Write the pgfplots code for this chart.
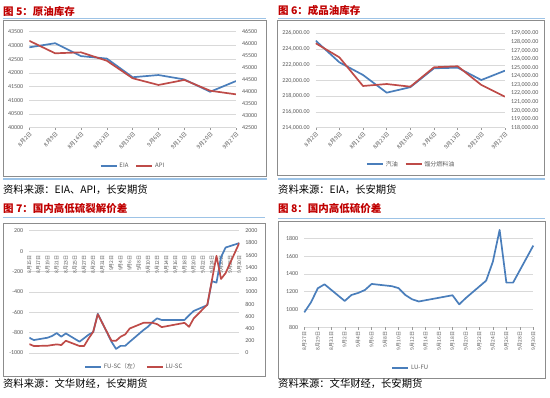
\documentclass[border=0pt]{standalone}
\usepackage{pgfplots}
\pgfplotsset{compat=1.18}
\usepackage{fontspec}
\setmainfont{Carlito}
\newfontfamily\cjk{Noto Sans CJK SC}
\definecolor{xlblue}{HTML}{4A7EBB}
\definecolor{xlred}{HTML}{BE4B48}
\definecolor{ttlred}{HTML}{C00000}
\definecolor{rulec}{HTML}{9DC3E6}
\definecolor{tickc}{HTML}{595959}
\definecolor{gridc}{HTML}{D9D9D9}
\definecolor{framec}{HTML}{8C8C8C}
\pgfplotsset{
  xl/.style={
    scale only axis, anchor=south west,
    axis line style={draw=none},
    ytick style={draw=none},
    xtick style={draw=gridc!70!black, line width=0.4pt},
    major tick length=2.5pt, tick align=outside,
    tick label style={font=\fontsize{6}{7}\selectfont, text=tickc},
    /pgf/number format/assume math mode=true,
    /pgf/number format/1000 sep={},
    scaled y ticks=false,
    grid style={gridc, line width=0.5pt},
    legend style={draw=none, fill=none, font=\cjk\fontsize{6}{7}\selectfont, text=tickc, legend columns=-1, anchor=center,
      /tikz/every even column/.append style={column sep=5pt}},
    legend cell align=left,
    legend image code/.code={\draw[##1] (0pt,0pt) -- (16pt,0pt);},
  },
  ln/.style={line width=1.7pt, line join=round},
}
\newcommand{\ttl}[1]{{\cjk\bfseries\fontsize{10.5}{12}\selectfont #1}}
\newcommand{\src}[1]{{\cjk\fontsize{10.3}{12}\selectfont #1}}
\begin{document}
\begin{tikzpicture}
\useasboundingbox (0,0) rectangle (550pt,398pt);
% ---------- panel decorations ----------
\node[anchor=west, text=ttlred, inner sep=0] at (3pt,387pt) {\ttl{图 5：原油库存}};
\draw[rulec, line width=1.3pt] (3pt,379.7pt) -- (266pt,379.7pt);
\draw[framec, line width=0.7pt] (3.3pt,377.3pt) rectangle (266.7pt,221.3pt);
\draw[rulec, line width=2pt] (3pt,219pt) -- (267pt,219pt);
\node[anchor=west, inner sep=0] at (3pt,208.7pt) {\src{资料来源：EIA、API，长安期货}};

\node[anchor=west, text=ttlred, inner sep=0] at (278pt,387pt) {\ttl{图 6：成品油库存}};
\draw[rulec, line width=1.3pt] (278pt,379.7pt) -- (545pt,379.7pt);
\draw[framec, line width=0.7pt] (277.7pt,377.3pt) rectangle (544.3pt,223pt);
\draw[rulec, line width=2pt] (278pt,219pt) -- (545pt,219pt);
\node[anchor=west, inner sep=0] at (278pt,208.7pt) {\src{资料来源：EIA，长安期货}};

\node[anchor=west, text=ttlred, inner sep=0] at (3pt,189pt) {\ttl{图 7：国内高低硫裂解价差}};
\draw[rulec, line width=1.3pt] (3pt,180.3pt) -- (265pt,180.3pt);
\draw[framec, line width=0.7pt] (3.3pt,174.7pt) rectangle (265.7pt,21.5pt);
\node[anchor=west, inner sep=0] at (3pt,14pt) {\src{资料来源：文华财经，长安期货}};

\node[anchor=west, text=ttlred, inner sep=0] at (278pt,189pt) {\ttl{图 8：国内高低硫价差}};
\draw[rulec, line width=1.3pt] (278pt,179.7pt) -- (545pt,179.7pt);
\draw[framec, line width=0.7pt] (278.3pt,176.3pt) rectangle (545.7pt,19.7pt);
\node[anchor=west, inner sep=0] at (278pt,14pt) {\src{资料来源：文华财经，长安期货}};

% ---------- chart 5 ----------
\begin{axis}[xl, at={(29.3pt,270.3pt)}, width=206.7pt, height=96pt,
  axis y line*=left, axis x line*=bottom,
  xmin=0, xmax=8, ymin=40000, ymax=43500, ytick={40000,40500,...,43500}, ymajorgrids,
  xtick={0,...,8}, xticklabels={8月2日,8月9日,8月16日,8月23日,8月30日,9月6日,9月13日,9月20日,9月27日},
  xticklabel style={font=\cjk\fontsize{5.5}{6}\selectfont, rotate=45, anchor=north east, inner sep=1pt},
  legend style={at={(0.502,-0.396)}}]
\addplot[xlblue, ln] coordinates {(0,42930)(1,43080)(2,42610)(3,42520)(4,41840)(5,41920)(6,41760)(7,41310)(8,41700)};
\addlegendentry{EIA}
\addlegendimage{xlred, ln}
\addlegendentry{API}
\end{axis}
\begin{axis}[xl, at={(29.3pt,270.3pt)}, width=206.7pt, height=96pt,
  axis y line*=right, axis x line=none,
  xmin=0, xmax=8, ymin=42500, ymax=46500, ytick={42500,43000,...,46500}]
\addplot[xlred, ln] coordinates {(0,46120)(1,45600)(2,45640)(3,45290)(4,44560)(5,44280)(6,44490)(7,44040)(8,43890)};
\end{axis}

% ---------- chart 6 ----------
\begin{axis}[xl, at={(315.7pt,270.3pt)}, width=189.3pt, height=94.4pt,
  axis y line*=left, axis x line*=bottom,
  xmin=0, xmax=8, ymin=214000, ymax=226000, ytick={214000,216000,...,226000}, ymajorgrids,
  yticklabel style={/pgf/number format/.cd, fixed, fixed zerofill, precision=2, 1000 sep={,}},
  xtick={0,...,8}, xticklabels={8月2日,8月9日,8月16日,8月23日,8月30日,9月6日,9月13日,9月20日,9月27日},
  xticklabel style={font=\cjk\fontsize{5.5}{6}\selectfont, rotate=45, anchor=north east, inner sep=1pt},
  legend style={at={(0.505,-0.388)}}]
\addplot[xlblue, ln] coordinates {(0,225060)(1,222310)(2,220700)(3,218450)(4,219150)(5,221550)(6,221630)(7,220060)(8,221250)};
\addlegendentry{汽油}
\addlegendimage{xlred, ln}
\addlegendentry{馏分燃料油}
\end{axis}
\begin{axis}[xl, at={(315.7pt,270.3pt)}, width=189.3pt, height=94.4pt,
  axis y line*=right, axis x line=none,
  xmin=0, xmax=8, ymin=118000, ymax=129000, ytick={118000,119000,...,129000},
  yticklabel style={/pgf/number format/.cd, fixed, fixed zerofill, precision=2, 1000 sep={,}}]
\addplot[xlred, ln] coordinates {(0,127840)(1,126200)(2,122860)(3,123090)(4,122780)(5,125040)(6,125160)(7,122980)(8,121610)};
\end{axis}

% ---------- chart 7 ----------
\begin{axis}[xl, at={(29.3pt,45pt)}, width=210pt, height=122.3pt,
  axis y line*=left, axis x line*=bottom, xtick style={draw=none},
  xmin=0, xmax=46, ymin=-1000, ymax=200, ytick={-1000,-800,...,200}, ymajorgrids,
  xtick={0,2,...,46},
  xticklabels={8月15日,8月17日,8月19日,8月21日,8月23日,8月25日,8月27日,8月29日,8月31日,9月2日,9月4日,9月6日,9月8日,9月10日,9月12日,9月14日,9月16日,9月18日,9月20日,9月22日,9月24日,9月26日,9月28日,9月30日},
  xticklabel style={font=\cjk\fontsize{5}{6}\selectfont, yshift=101.9pt, rotate=90, anchor=east, inner sep=1.5pt},
  legend style={at={(0.5,-0.112)}}]
\addplot[xlblue, ln] coordinates {(0,-850)(1,-873)(4,-850)(5,-833)(6,-805)(7,-840)(8,-808)(11,-889)(12,-855)(13,-820)(14,-795)(15,-615)(18,-889)(19,-960)(20,-930)(21,-930)(22,-890)(25,-775)(26,-742)(27,-695)(28,-660)(29,-676)(34,-676)(35,-630)(36,-588)(39,-530)(40,-295)(41,-310)(42,-60)(43,35)(46,78)};
\addlegendentry{FU-SC（左）}
\addlegendimage{xlred, ln}
\addlegendentry{LU-SC}
\end{axis}
\begin{axis}[xl, at={(29.3pt,45pt)}, width=210pt, height=122.3pt,
  axis y line*=right, axis x line=none,
  xmin=0, xmax=46, ymin=0, ymax=2000, ytick={0,200,...,2000}]
\addplot[xlred, ln] coordinates {(0,146)(1,114)(4,119)(5,130)(6,141)(7,130)(8,200)(11,114)(12,114)(13,238)(14,347)(15,634)(18,200)(19,200)(20,266)(21,303)(22,401)(25,493)(26,493)(27,493)(28,472)(29,423)(34,493)(35,428)(36,564)(39,791)(40,1190)(41,1589)(42,1210)(43,1307)(46,1800)};
\end{axis}

% ---------- chart 8 ----------
\begin{axis}[xl, at={(304.3pt,70.7pt)}, width=229pt, height=89pt, clip=false,
  axis y line*=left, axis x line*=bottom,
  xmin=0, xmax=34, ymin=800, ymax=1800, ytick={800,1000,...,1800}, ymajorgrids,
  xtick={0,2,...,34},
  xticklabels={8月27日,8月29日,8月31日,9月2日,9月4日,9月6日,9月8日,9月10日,9月12日,9月14日,9月16日,9月18日,9月20日,9月22日,9月24日,9月26日,9月28日,9月30日},
  xticklabel style={font=\cjk\fontsize{5}{6}\selectfont, rotate=90, anchor=east, inner sep=2pt},
  legend style={at={(0.465,-0.461)}}]
\addplot[xlblue, ln] coordinates {(0,968)(1,1081)(2,1238)(3,1283)(6,1096)(7,1163)(8,1186)(9,1219)(10,1287)(13,1262)(14,1240)(15,1163)(16,1115)(17,1090)(22,1160)(23,1058)(24,1130)(27,1324)(28,1538)(29,1894)(30,1302)(31,1302)(34,1718)};
\addlegendentry{LU-FU}
\end{axis}
\end{tikzpicture}
\end{document}
